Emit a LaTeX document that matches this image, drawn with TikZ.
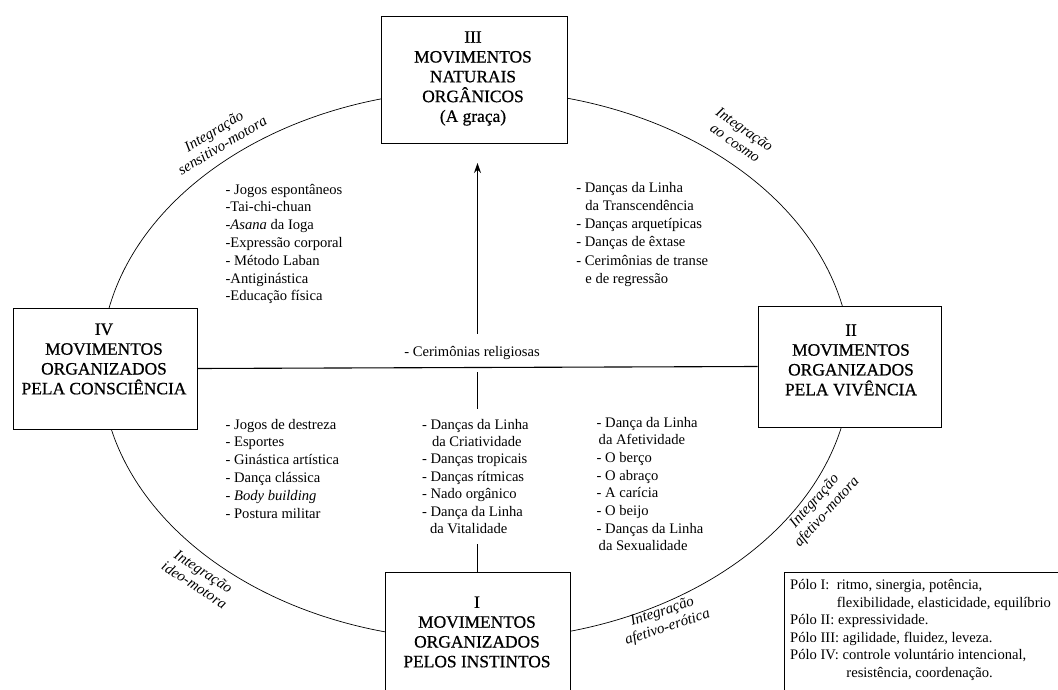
\documentclass[tikz,border=0pt]{standalone}
\usepackage{fontspec}
\setmainfont{Liberation Serif}
\newfontfamily\polefont{Liberation Serif}[FakeBold=0.7]
\usetikzlibrary{arrows.meta}

\begin{document}
\begin{tikzpicture}
[x=1pt,y=-1pt,
  polebox/.style={shape=rectangle,draw,fill=white,line width=0.9pt,inner sep=0pt},%
  poletext/.style={align=center,inner sep=0pt,font=\polefont\fontsize{17.4}{19.8}\selectfont},%
  listtext/.style={align=left,anchor=base west,inner sep=0pt,font=\fontsize{14.6}{17.8}\selectfont},%
  arclabel/.style={align=center,inner sep=0pt,font=\itshape\fontsize{15}{16.5}\selectfont},%
  arrowdecorate/.style={-{Stealth[length=10pt,width=7pt]},line width=0.9pt},%
  linedecorate/.style={-,line width=1.1pt},%
  ringdecorate/.style={line width=0.7pt}]
\useasboundingbox (0,0) rectangle (1058,690);
%% ring of integration
\coordinate (ctr) at (476,365);
\draw[ringdecorate] (ctr) ellipse [x radius=375pt, y radius=275pt];
%% poles
\foreach \nodename/\x/\y/\w/\h in {III/474/79.5/186/127,
  IV/105/368.5/184/121, II/849.5/366.5/183/121, I/477.5/638.5/185/133} {
  \node[polebox,minimum width=\w pt,minimum height=\h pt] (\nodename) at (\x,\y) {};
}
\node[polebox,minimum width=290pt,minimum height=133pt] (legend) at (929.5,638.5) {};
%% axes
\coordinate (tip) at (477.5,163);
\draw[arrowdecorate] (I.north) -- (tip);
\node[listtext,anchor=center,fill=white,inner xsep=2pt,inner ysep=12pt] (rel) at (472,353)
  {- Cerimônias religiosas};
\draw[linedecorate] (IV.east) -- (II.west);
%% pole titles
\node[poletext] (IIIt) at (473,78.5) {III\\MOVIMENTOS\\NATURAIS\\ORGÂNICOS\\(A graça)};
\node[poletext] (IVt) at (104,359) {IV\\MOVIMENTOS\\ORGANIZADOS\\PELA CONSCIÊNCIA};
\node[poletext] (IIt) at (851,360) {II\\MOVIMENTOS\\ORGANIZADOS\\PELA VIVÊNCIA};
\node[poletext] (It) at (477,632) {I\\MOVIMENTOS\\ORGANIZADOS\\PELOS INSTINTOS};
%% labels on the ring
\foreach \nodename/\x/\y/\angle/\upper/\lower in {sm/218/138/31/Integração/sensitivo-motora,
  co/740/136/-35/Integração/ao cosmo, im/199/578/-33/Integração/ideo-motora,
  ae/665/620/18/Integração/afetivo-erótica, am/821/507/48/Integração/afetivo-motora} {
  \node[arclabel,rotate=\angle] (\nodename) at (\x,\y) {\upper\\\lower};
}
%% lists of movements (placed at the baseline of their last line)
\node[listtext] (lsttl) at (225.4,300.8) {- Jogos espontâneos\\-Tai-chi-chuan\\-\textit{Asana} da Ioga\\-Expressão corporal\\- Método Laban\\-Antiginástica\\-Educação física};
\node[listtext,font=\fontsize{14.6}{18.2}\selectfont] (lsttr) at (576.2,283.3) {- Danças da Linha\\\hspace*{9pt}da Transcendência\\- Danças arquetípicas\\- Danças de êxtase\\- Cerimônias de transe\\\hspace*{9pt}e de regressão};
\node[listtext] (lstbl) at (225.4,518) {- Jogos de destreza\\- Esportes\\- Ginástica artística\\- Dança clássica\\- \textit{Body building}\\- Postura militar};
\node[listtext,fill=white,inner ysep=10pt,font=\fontsize{14.6}{17.4}\selectfont] (lstbc) at (421.8,533.4) {- Danças da Linha\\\hspace*{10pt}da Criatividade\\- Danças tropicais\\- Danças rítmicas\\- Nado orgânico\\- Dança da Linha\\\hspace*{8pt}da Vitalidade};
\node[listtext,font=\fontsize{14.6}{17.7}\selectfont] (lstbr) at (596.5,550.9) {- Dança da Linha\\\hspace*{2pt}da Afetividade\\- O berço\\- O abraço\\- A carícia\\- O beijo\\- Danças da Linha\\\hspace*{2pt}da Sexualidade};
%% legend
\node[listtext,font=\fontsize{14.6}{17.5}\selectfont] (legendt) at (790,677)
  {\makebox[46.7pt][l]{Pólo I:}ritmo, sinergia, potência,\\\hspace*{46.7pt}flexibilidade, elasticidade, equilíbrio\\Pólo II: expressividade.\\Pólo III: agilidade, fluidez, leveza.\\Pólo IV: controle voluntário intencional,\\\hspace*{56.2pt}resistência, coordenação.};
\end{tikzpicture}
\end{document}
